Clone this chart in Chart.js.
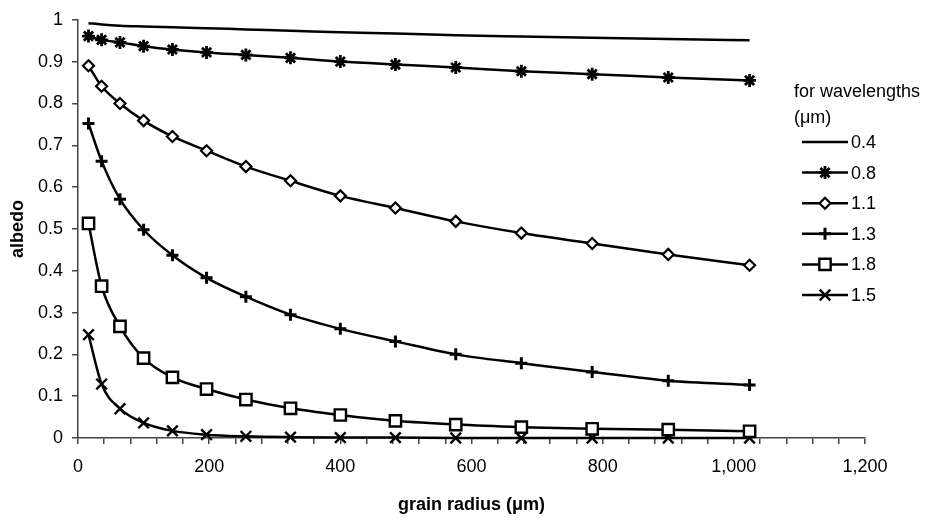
<!DOCTYPE html>
<html>
<head>
<meta charset="utf-8">
<script src="https://cdn.jsdelivr.net/npm/chart.js"></script>
<style>
  body { margin: 0; background: #fff; }
</style>
</head>
<body>
<canvas id="graph01" width="929" height="518"></canvas>
<script>
const radius = [16, 36, 64, 100, 144, 196, 256, 324, 400, 484, 576, 676, 784, 900, 1024]
const wavelengths = ['0.4', '0.8', '1.1', '1.3', '1.8', '1.5']
const albedo04 = [0.992, 0.989, 0.986, 0.984, 0.982, 0.980, 0.977, 0.974, 0.970, 0.967, 0.963, 0.960, 0.957, 0.954, 0.951]
const albedo08 = [0.961, 0.952, 0.946, 0.937, 0.929, 0.922, 0.916, 0.909, 0.900, 0.893, 0.886, 0.877, 0.870, 0.862, 0.855]
const albedo11 = [0.890, 0.841, 0.800, 0.759, 0.721, 0.687, 0.649, 0.615, 0.579, 0.550, 0.518, 0.490, 0.465, 0.439, 0.413]
const albedo13 = [0.752, 0.662, 0.571, 0.498, 0.437, 0.383, 0.338, 0.295, 0.261, 0.231, 0.200, 0.179, 0.158, 0.137, 0.127]
const albedo18 = [0.513, 0.363, 0.267, 0.191, 0.145, 0.117, 0.092, 0.071, 0.055, 0.041, 0.032, 0.026, 0.022, 0.020, 0.016]
const albedo15 = [0.247, 0.129, 0.070, 0.036, 0.017, 0.008, 0.004, 0.002, 0.001, 0.001, 0, 0, 0, 0, 0]

const xMax = 1200
const xMinor = 40
const xMajor = 200

const font = '"Liberation Sans", Arial, sans-serif'
const axisColor = '#444'

const toPoints = ys => ys.map((y, i) => ({ x: radius[i], y: y }))

const markers = [
  { style: 'circle', r: 0, w: 0 },
  { style: 'star', r: 6.5, w: 2.8 },
  { style: 'rectRot', r: 5.5, w: 2.2 },
  { style: 'cross', r: 6, w: 3 },
  { style: 'rect', r: 8, w: 2.4 },
  { style: 'crossRot', r: 7.5, w: 2.4 }
]
const series = [albedo04, albedo08, albedo11, albedo13, albedo18, albedo15]

const datasets = series.map((ys, i) => ({
  label: wavelengths[i],
  data: toPoints(ys),
  borderColor: '#000',
  backgroundColor: '#fff',
  borderWidth: 2.5,
  pointStyle: markers[i].style,
  pointRadius: markers[i].r,
  pointBorderWidth: markers[i].w,
  pointBorderColor: '#000',
  pointBackgroundColor: '#fff',
  cubicInterpolationMode: 'monotone',
  clip: false
}))

// legend drawn by hand: title lines + line-with-marker rows
const legendBox = {
  id: 'legendBox',
  afterDraw(chart) {
    const ctx = chart.ctx
    ctx.save()
    ctx.fillStyle = '#000'
    ctx.font = '18px ' + font
    ctx.textBaseline = 'middle'
    ctx.textAlign = 'left'
    ctx.fillText('for wavelengths', 794, 92)
    ctx.fillText('(\u03bcm)', 794, 118)
    chart.data.datasets.forEach((ds, i) => {
      const y = 142 + i * 30.6
      ctx.strokeStyle = '#000'
      ctx.lineWidth = 2.5
      ctx.beginPath()
      ctx.moveTo(802, y)
      ctx.lineTo(848, y)
      ctx.stroke()
      if (ds.pointRadius > 0) {
        ctx.lineWidth = ds.pointBorderWidth
        ctx.fillStyle = '#fff'
        Chart.helpers.drawPoint(ctx, {
          pointStyle: ds.pointStyle,
          radius: ds.pointRadius,
          rotation: 0,
          borderWidth: ds.pointBorderWidth
        }, 825, y)
      }
      ctx.fillStyle = '#000'
      ctx.fillText(wavelengths[i], 851, y + 1)
    })
    ctx.restore()
  }
}

new Chart(document.getElementById('graph01'), {
  type: 'line',
  data: { datasets: datasets },
  plugins: [legendBox],
  options: {
    responsive: false,
    animation: false,
    layout: { padding: { top: 16, right: 64, bottom: 2, left: 0 } },
    plugins: {
      legend: { display: false },
      tooltip: { enabled: false }
    },
    scales: {
      x: {
        type: 'linear',
        min: 0,
        max: xMax,
        afterFit: s => { s.height = 78 },
        border: { display: true, color: axisColor, width: 1.5 },
        grid: { drawOnChartArea: false, drawTicks: true, tickLength: 6, color: axisColor, lineWidth: 1.5 },
        ticks: {
          stepSize: xMinor,
          autoSkip: false,
          maxRotation: 0,
          padding: 12,
          color: '#000',
          font: { family: font, size: 18 },
          callback: v => v % xMajor === 0 ? v.toLocaleString('en-US') : ''
        },
        title: {
          display: true,
          text: 'grain radius (\u03bcm)',
          color: '#000',
          font: { family: font, size: 18, weight: 'bold' },
          padding: { top: 0, bottom: 0 }
        }
      },
      y: {
        min: 0,
        max: 1,
        afterFit: s => { s.width = 78 },
        border: { display: true, color: axisColor, width: 1.5 },
        grid: { drawOnChartArea: false, drawTicks: true, tickLength: 6, color: axisColor, lineWidth: 1.5 },
        ticks: {
          stepSize: 0.1,
          padding: 9,
          color: '#000',
          font: { family: font, size: 18 },
          callback: v => Math.round(v * 10) / 10
        },
        title: {
          display: true,
          text: 'albedo',
          color: '#000',
          font: { family: font, size: 18, weight: 'bold' },
          padding: { top: 7, bottom: 0 }
        }
      }
    }
  }
})
</script>
</body>
</html>
